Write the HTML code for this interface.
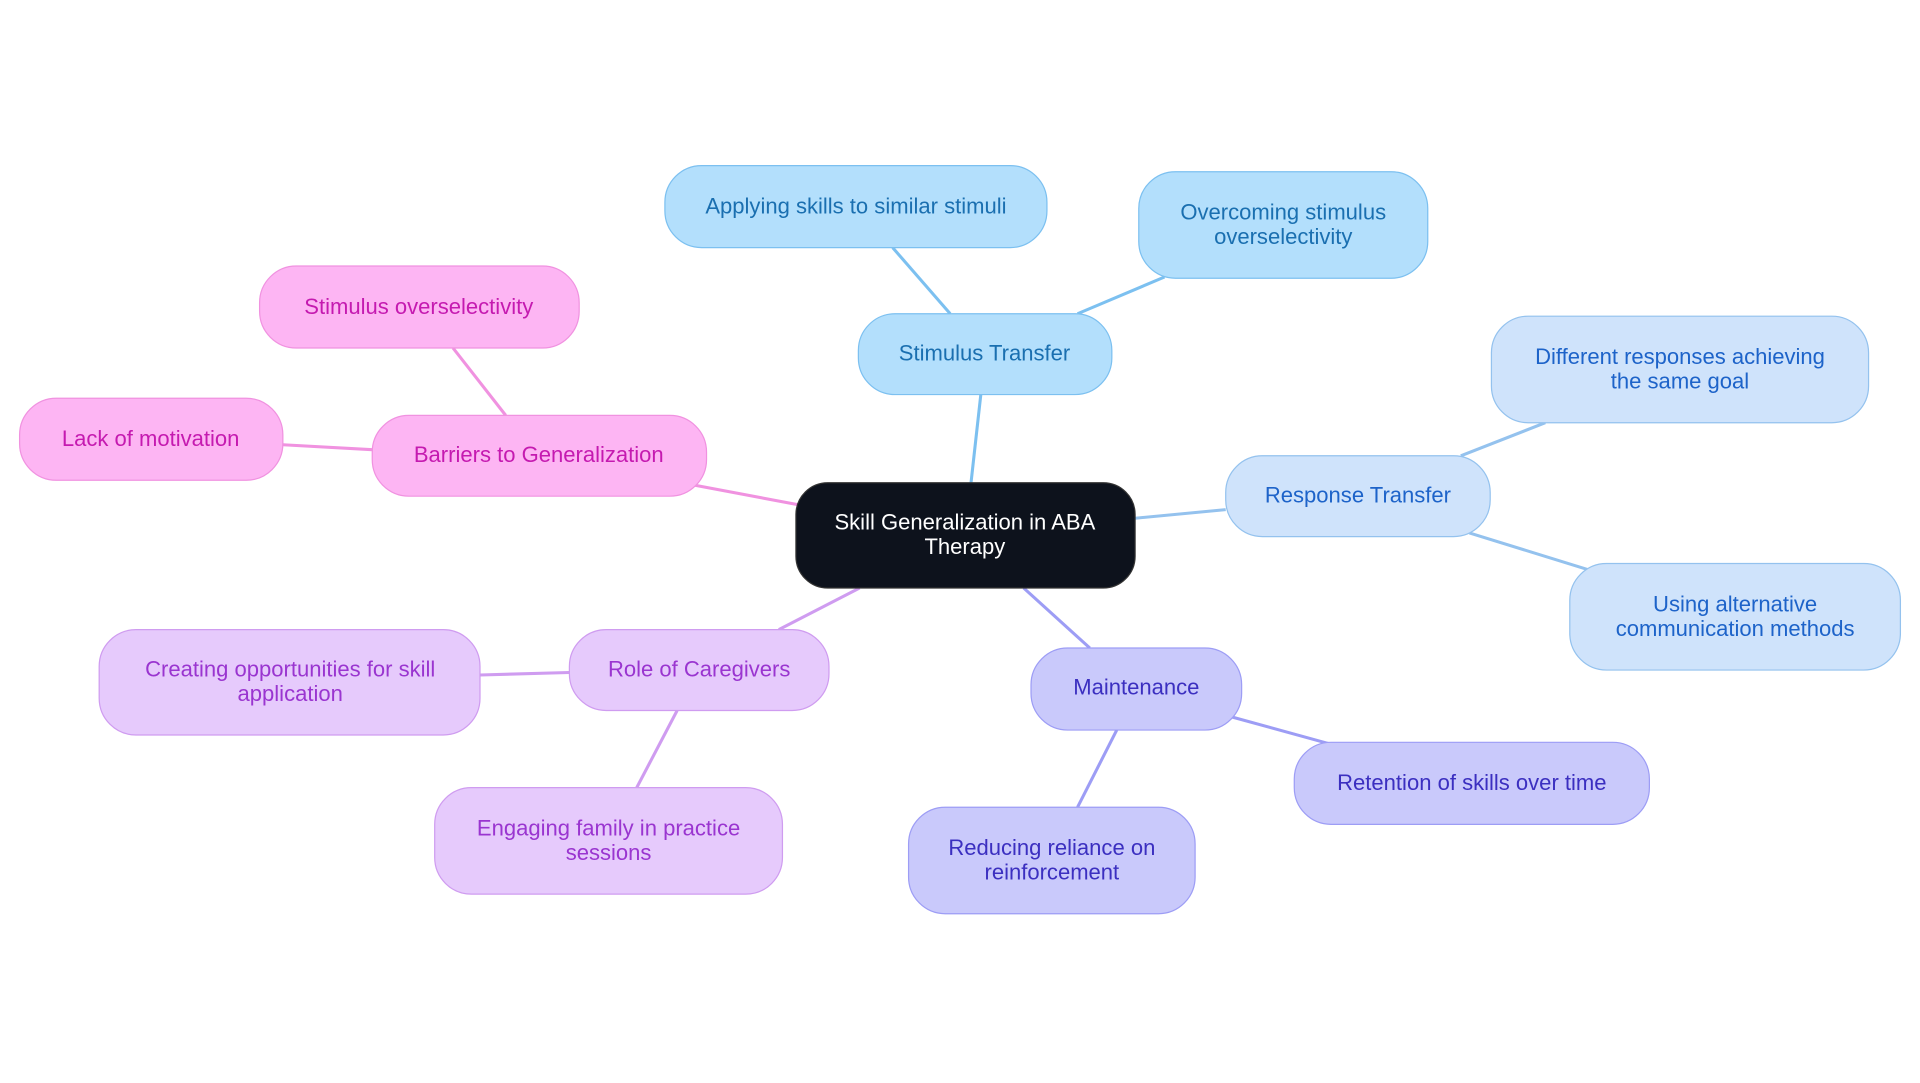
<!DOCTYPE html>
<html><head><meta charset="utf-8"><style>
html,body{margin:0;padding:0;background:#fff;width:1920px;height:1083px;overflow:hidden}
svg{display:block}
text{font-family:"Liberation Sans",sans-serif;font-size:18px;text-anchor:middle;dominant-baseline:central}
</style></head><body>
<svg width="1920" height="1083" viewBox="0 0 1568 884" xmlns="http://www.w3.org/2000/svg">
<g stroke-width="2.5" fill="none">
<line x1="793" y1="394" x2="801" y2="322" stroke="#7cc0f0"/>
<line x1="776" y1="256" x2="729" y2="202" stroke="#7cc0f0"/>
<line x1="880" y1="256" x2="951" y2="226" stroke="#7cc0f0"/>
<line x1="927" y1="423" x2="1001" y2="416" stroke="#94c2ee"/>
<line x1="1193" y1="372" x2="1262" y2="345" stroke="#94c2ee"/>
<line x1="1200" y1="435" x2="1297" y2="465" stroke="#94c2ee"/>
<line x1="836" y1="480" x2="890" y2="529" stroke="#9d9df5"/>
<line x1="1005" y1="585" x2="1085" y2="607" stroke="#9d9df5"/>
<line x1="912" y1="596" x2="880" y2="659" stroke="#9d9df5"/>
<line x1="702" y1="480" x2="636" y2="514" stroke="#cf9cf0"/>
<line x1="465" y1="549" x2="392" y2="551" stroke="#cf9cf0"/>
<line x1="553" y1="580" x2="520" y2="643" stroke="#cf9cf0"/>
<line x1="652" y1="412" x2="567" y2="396" stroke="#f092e0"/>
<line x1="413" y1="339" x2="370" y2="284" stroke="#f092e0"/>
<line x1="304" y1="367" x2="231" y2="363" stroke="#f092e0"/>
</g>
<rect x="650" y="394" width="277" height="86" rx="26" fill="#0d121c" stroke="#333" stroke-width="1"/>
<text x="788" y="426" fill="#fff">Skill Generalization in ABA</text>
<text x="788" y="446" fill="#fff">Therapy</text>

<g fill="#b3dffc" stroke="#7cc0f0" stroke-width="1">
<rect x="701" y="256" width="207" height="66" rx="30"/>
<rect x="543" y="135" width="312" height="67" rx="30"/>
<rect x="930" y="140" width="236" height="87" rx="30"/>
</g>
<g fill="#1a6fb0">
<text x="804" y="288">Stimulus Transfer</text>
<text x="699" y="168">Applying skills to similar stimuli</text>
<text x="1048" y="173">Overcoming stimulus</text>
<text x="1048" y="193">overselectivity</text>
</g>

<g fill="#cfe3fb" stroke="#94c2ee" stroke-width="1">
<rect x="1001" y="372" width="216" height="66" rx="30"/>
<rect x="1218" y="258" width="308" height="87" rx="30"/>
<rect x="1282" y="460" width="270" height="87" rx="30"/>
</g>
<g fill="#1d63c9">
<text x="1109" y="404">Response Transfer</text>
<text x="1372" y="291">Different responses achieving</text>
<text x="1372" y="311">the same goal</text>
<text x="1417" y="493">Using alternative</text>
<text x="1417" y="513">communication methods</text>
</g>

<g fill="#c9c9fb" stroke="#9d9df5" stroke-width="1">
<rect x="842" y="529" width="172" height="67" rx="30"/>
<rect x="1057" y="606" width="290" height="67" rx="30"/>
<rect x="742" y="659" width="234" height="87" rx="30"/>
</g>
<g fill="#3b2fc0">
<text x="928" y="561">Maintenance</text>
<text x="1202" y="639">Retention of skills over time</text>
<text x="859" y="692">Reducing reliance on</text>
<text x="859" y="712">reinforcement</text>
</g>

<g fill="#e6cafc" stroke="#cf9cf0" stroke-width="1">
<rect x="465" y="514" width="212" height="66" rx="30"/>
<rect x="81" y="514" width="311" height="86" rx="30"/>
<rect x="355" y="643" width="284" height="87" rx="30"/>
</g>
<g fill="#9a35d0">
<text x="571" y="546">Role of Caregivers</text>
<text x="237" y="546">Creating opportunities for skill</text>
<text x="237" y="566">application</text>
<text x="497" y="676">Engaging family in practice</text>
<text x="497" y="696">sessions</text>
</g>

<g fill="#fdb5f3" stroke="#f092e0" stroke-width="1">
<rect x="304" y="339" width="273" height="66" rx="30"/>
<rect x="212" y="217" width="261" height="67" rx="30"/>
<rect x="16" y="325" width="215" height="67" rx="30"/>
</g>
<g fill="#c51ab0">
<text x="440" y="371">Barriers to Generalization</text>
<text x="342" y="250">Stimulus overselectivity</text>
<text x="123" y="358">Lack of motivation</text>
</g>
</svg>
</body></html>
